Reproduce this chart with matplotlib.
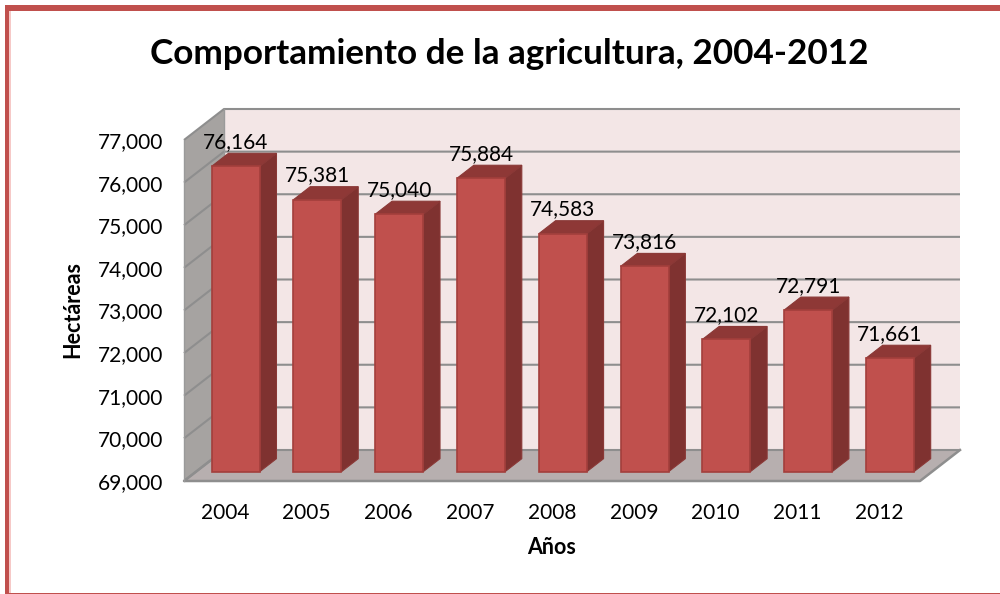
# -*- coding: utf-8 -*-
import matplotlib
matplotlib.use("Agg")
import matplotlib.pyplot as plt
from matplotlib.patches import Polygon, Rectangle

plt.rcParams['font.family'] = ['Lato', 'DejaVu Sans']

years = ['2004', '2005', '2006', '2007', '2008', '2009', '2010', '2011', '2012']
values = [76164, 75381, 75040, 75884, 74583, 73816, 72102, 72791, 71661]
yticks = [69000, 70000, 71000, 72000, 73000, 74000, 75000, 76000, 77000]

YMIN, YMAX = 69000, 77000
W, H = 1000, 594

# depth of the fake 3d box, in data units
DX = 9 * 40 / 736
DY = (YMAX - YMIN) * 31 / 341
Z1, Z2 = 0.30, 0.72 #front and back of the bars
BAR_W = 0.587


def pt(x, y, z):
    return (x + z * DX, y + z * DY)


def frame_piece(x0, y0, x1, y1, colour):
    # y counted from the top of the picture, in pixels
    fig.add_artist(Rectangle((x0 / W, 1 - y1 / H), (x1 - x0) / W, (y1 - y0) / H,
                             transform=fig.transFigure, facecolor=colour, edgecolor='none'))


fig = plt.figure(figsize=(W / 100, H / 100), dpi=100)
fig.patch.set_facecolor('white')

# red frame: left, top and a thin bottom line, the right side is cut off
frame_piece(9, 11, 10.5, 593, '#F6C9C7')
frame_piece(4.5, 5.5, 9, 594, '#C0504D')
frame_piece(4.5, 5.5, 1000, 10.5, '#C0504D')
frame_piece(9, 592.7, 1000, 594, '#C0504D')

ax = fig.add_axes([184 / W, 1 - 481 / H, 736 / W, 341 / H])
ax.set_xlim(0, 9)
ax.set_ylim(YMIN, YMAX)
for s in ax.spines.values():
    s.set_visible(False)
ax.patch.set_alpha(0)

# walls and floor
ax.add_patch(Polygon([pt(0, YMIN, 1), pt(9, YMIN, 1), pt(9, YMAX, 1), pt(0, YMAX, 1)],
                     facecolor='#F3E6E6', edgecolor='none', clip_on=False, zorder=1))
ax.add_patch(Polygon([pt(0, YMIN, 0), pt(0, YMIN, 1), pt(0, YMAX, 1), pt(0, YMAX, 0)],
                     facecolor='#A6A3A1', edgecolor='none', clip_on=False, zorder=1))
ax.add_patch(Polygon([pt(0, YMIN, 0), pt(9, YMIN, 0), pt(9, YMIN, 1), pt(0, YMIN, 1)],
                     facecolor='#B7AFAF', edgecolor='none', clip_on=False, zorder=1))

# grid lines on both walls
for v in yticks:
    xs, ys = zip(pt(0, v, 0), pt(0, v, 1), pt(9, v, 1))
    ax.plot(xs, ys, color='#8E8E8E', lw=1.5, clip_on=False, zorder=2, solid_capstyle='butt')
xs, ys = zip(pt(0, YMIN, 1), pt(0, YMIN, 0), pt(9, YMIN, 0), pt(9, YMIN, 1))
ax.plot(xs, ys, color='#8E8E8E', lw=1.8, clip_on=False, zorder=2)
xs, ys = zip(pt(0, YMAX, 0), pt(0, YMIN, 0))
ax.plot(xs, ys, color='#9A9A9A', lw=1, clip_on=False, zorder=2)
xs, ys = zip(pt(0, YMAX, 1), pt(0, YMIN, 1))
ax.plot(xs, ys, color='#9A9A9A', lw=1, clip_on=False, zorder=2)

# bars: front face is a real bar, top and side are polygons behind it
slots = [i + 0.5 for i in range(len(years))]
centers = [s + Z1 * DX - 0.015 for s in slots]
base = YMIN + Z1 * DY
for c, v in zip(centers, values):
    r = c + BAR_W / 2
    l = c - BAR_W / 2
    dx = (Z2 - Z1) * DX
    dy = (Z2 - Z1) * DY
    top = v + Z1 * DY
    ax.add_patch(Polygon([(r, base), (r + dx, base + dy), (r + dx, top + dy), (r, top)],
                         facecolor='#7F3230', edgecolor='#8A3836', lw=0.8, clip_on=False, zorder=3))
    ax.add_patch(Polygon([(l, top), (r, top), (r + dx, top + dy), (l + dx, top + dy)],
                         facecolor='#8E3836', edgecolor='#8A3836', lw=0.8, clip_on=False, zorder=3))
ax.bar(centers, [v - YMIN for v in values], bottom=base, width=BAR_W, color='#C0504D',
       edgecolor='#A33F3C', linewidth=1.2, zorder=4)

for c, v in zip(centers, values):
    ax.annotate(f'{v:,}', (c, v + Z1 * DY), xytext=(0, 17.5), textcoords='offset points',
                ha='center', va='center', fontsize=15, color='black', zorder=6,
                annotation_clip=False)

ax.set_yticks(yticks)
ax.set_yticklabels([f'{v:,}' for v in yticks])
ax.set_xticks(slots)
ax.set_xticklabels(years)
ax.tick_params(axis='both', length=0, labelsize=15, colors='black')
ax.tick_params(axis='y', pad=15)
ax.tick_params(axis='x', pad=16)

fig.text(509 / W, 1 - 54 / H, 'Comportamiento de la agricultura, 2004-2012', ha='center', va='center',
         fontsize=25.3, fontweight='bold')
fig.text(552 / W, 1 - 548 / H, 'Años', ha='center', va='center', fontsize=15.5, fontweight='bold')
fig.text(73 / W, 1 - 309 / H, 'Hectáreas', ha='center', va='center', rotation=90, fontsize=15.5,
         fontweight='bold')

fig.savefig('out.png', dpi=100)
